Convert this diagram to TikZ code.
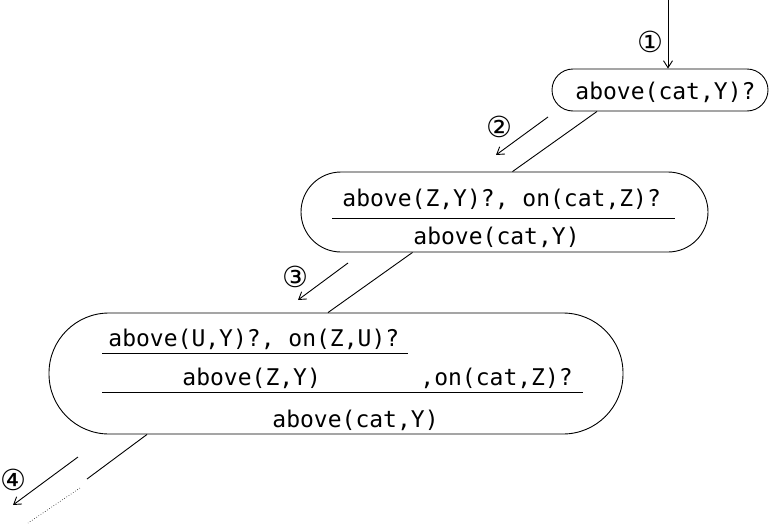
\documentclass[tikz,border=0pt]{standalone}
\usepackage{fontspec}
\setmonofont{DejaVu Sans Mono}
\newfontfamily\circfont{DejaVu Sans}
\usetikzlibrary{arrows.meta,calc}

\begin{document}
\begin{tikzpicture}[x=1pt, y=-1pt, line width=0.9pt, >={Straight Barb[length=7pt,width=9pt]},
      b/.style={draw, rounded corners=#1, inner sep=0pt},
      t/.style={font=\fontsize{23}{26}\selectfont\ttfamily, inner sep=0pt, anchor=base west},
      n/.style={font=\fontsize{29}{32}\selectfont\circfont, inner sep=0pt}]
    \useasboundingbox (0,0) rectangle (769,525);
    % goal boxes
    \node[b=21pt, minimum width=216pt, minimum height=42pt] (g1) at (660,90) {};
    \node[b=40pt, minimum width=407pt, minimum height=80pt] (g2) at (504.5,212) {};
    \node[b=60pt, minimum width=574pt, minimum height=121pt] (g3) at (336,373.5) {};
    \node[t] (g1a) at (575,99) {above(cat,Y)?};
    \node[t] (g2a) at (342,206) {above(Z,Y)?, on(cat,Z)?};
    \node[t] (g2b) at (413,244) {above(cat,Y)};
    \node[t] (g3a) at (108,346) {above(U,Y)?, on(Z,U)?};
    \node[t] (g3b) at (182,385) {above(Z,Y)};
    \node[t] (g3c) at (420,385) {,on(cat,Z)?};
    \node[t] (g3d) at (272,427) {above(cat,Y)};
    \draw (332,218) -- (675,218);
    \draw (102,353) -- (408,353);
    \draw (102,392) -- (583,392);
    % step numbers
    \node[n] (m1) at (650,42) {①};
    \node[n] (m2) at (499,127) {②};
    \node[n] (m3) at (295,277) {③};
    \node[n] (m4) at (13,480) {④};
    \coordinate (s1) at (668,0);
    \coordinate (p2) at (548,117); \coordinate (q2) at (496,155);
    \coordinate (p3) at (348,263); \coordinate (q3) at (298,300);
    \coordinate (p4) at (78,457);  \coordinate (q4) at (13,505);
    \draw[->] (s1) -- ([xshift=8pt]g1.north);
    \draw[->] (p2) -- (q2);
    \draw[->] (p3) -- (q3);
    \draw[->] (p4) -- (q4);
    % links between goals
    \coordinate (e3) at (87,479);
    \coordinate (d1) at (80,488); \coordinate (d2) at (28,523);
    \draw ([xshift=-63pt]g1.south) -- ([xshift=8pt]g2.north);
    \draw ([xshift=-92pt]g2.south) -- ([xshift=-8pt]g3.north);
    \draw ([xshift=-189pt]g3.south) -- (e3);
    \draw[dotted, line width=0.6pt] (d1) -- (d2);
\end{tikzpicture}
\end{document}
